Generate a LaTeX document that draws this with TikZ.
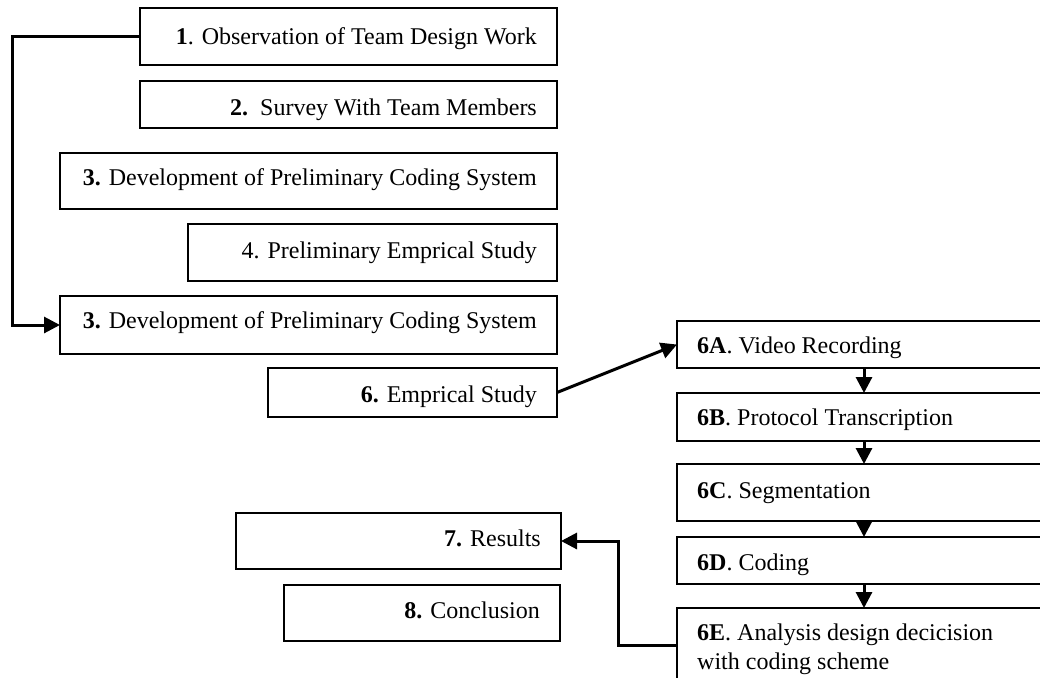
\documentclass[tikz,border=0pt]{standalone}
\usepackage{fontspec}
\setmainfont{Liberation Serif}
\usetikzlibrary{arrows.meta,calc}
\tikzset{
  box/.style={draw=black, line width=2pt, fill=white, anchor=north west, inner sep=0pt, outer sep=0pt},
  conn/.style={draw=black, line width=3pt, -{Triangle[length=16pt,width=16pt]}},
  lbl/.style={inner sep=0pt, font=\fontsize{24}{29}\selectfont},
}
\begin{document}
\begin{tikzpicture}[x=1pt,y=-1pt]
\useasboundingbox (0,0) rectangle (1040,677);
\clip (0,0) rectangle (1040,677);
% left column boxes
\node[box, minimum width=417pt, minimum height=57pt] (b1) at (140,8) {};
\node[box, minimum width=417pt, minimum height=47pt] (b2) at (140,81) {};
\node[box, minimum width=497pt, minimum height=56pt] (b3a) at (60,153) {};
\node[box, minimum width=369pt, minimum height=57pt] (b4) at (188,224) {};
\node[box, minimum width=497pt, minimum height=58pt] (b3b) at (60,296) {};
\node[box, minimum width=289pt, minimum height=49pt] (b6) at (268,368) {};
\node[box, minimum width=325pt, minimum height=56pt] (b7) at (236,513) {};
\node[box, minimum width=276pt, minimum height=56pt] (b8) at (284,585) {};
% right column boxes
\node[box, minimum width=380pt, minimum height=47pt] (a6) at (677,321) {};
\node[box, minimum width=380pt, minimum height=48pt] (bb6) at (677,393) {};
\node[box, minimum width=380pt, minimum height=57pt] (c6) at (677,464) {};
\node[box, minimum width=380pt, minimum height=47pt] (d6) at (677,537) {};
\node[box, minimum width=380pt, minimum height=100pt] (e6) at (677,608) {};
% labels
\node[lbl, anchor=base east] (t1) at ($(b1.north east)+(-20,37)$) {\textbf{1}. Observation of Team Design Work};
\node[lbl, anchor=base east] (t2) at ($(b2.north east)+(-20,34)$) {\textbf{2.}\ \ Survey With Team Members};
\node[lbl, anchor=base east] (t3a) at ($(b3a.north east)+(-20,32)$) {\textbf{3.} Development of Preliminary Coding System};
\node[lbl, anchor=base east] (t4) at ($(b4.north east)+(-20,34)$) {4. Preliminary Emprical Study};
\node[lbl, anchor=base east] (t3b) at ($(b3b.north east)+(-20,32)$) {\textbf{3.} Development of Preliminary Coding System};
\node[lbl, anchor=base east] (t6) at ($(b6.north east)+(-20,34)$) {\textbf{6.} Emprical Study};
\node[lbl, anchor=base east] (t7) at ($(b7.north east)+(-20,33)$) {\textbf{7.} Results};
\node[lbl, anchor=base east] (t8) at ($(b8.north east)+(-20,33)$) {\textbf{8.} Conclusion};
\node[lbl, anchor=base west] (ta) at ($(a6.north west)+(20,32)$) {\textbf{6A}. Video Recording};
\node[lbl, anchor=base west] (tb) at ($(bb6.north west)+(20,32)$) {\textbf{6B}. Protocol Transcription};
\node[lbl, anchor=base west] (tc) at ($(c6.north west)+(20,34)$) {\textbf{6C}. Segmentation};
\node[lbl, anchor=base west] (td) at ($(d6.north west)+(20,33)$) {\textbf{6D}. Coding};
\node[lbl, anchor=base west, align=left] (te) at ($(e6.north west)+(20,61)$) {\textbf{6E}. Analysis design decicision\\with coding scheme};
% connectors
\coordinate (ax) at (864,0);
\coordinate (e6out) at (677,645);
\draw[conn] (b1.west) -- ++(-128,0) |- (b3b.west);
\draw[conn] (b6.east) -- (a6.west);
\draw[conn] (a6.south -| ax) -- (bb6.north -| ax);
\draw[conn] (bb6.south -| ax) -- (c6.north -| ax);
\draw[conn] (c6.south -| ax) -- (d6.north -| ax);
\draw[conn] (d6.south -| ax) -- (e6.north -| ax);
\draw[conn] (e6out) -| ($(b7.east)+(57,0)$) -- (b7.east);
\end{tikzpicture}
\end{document}
